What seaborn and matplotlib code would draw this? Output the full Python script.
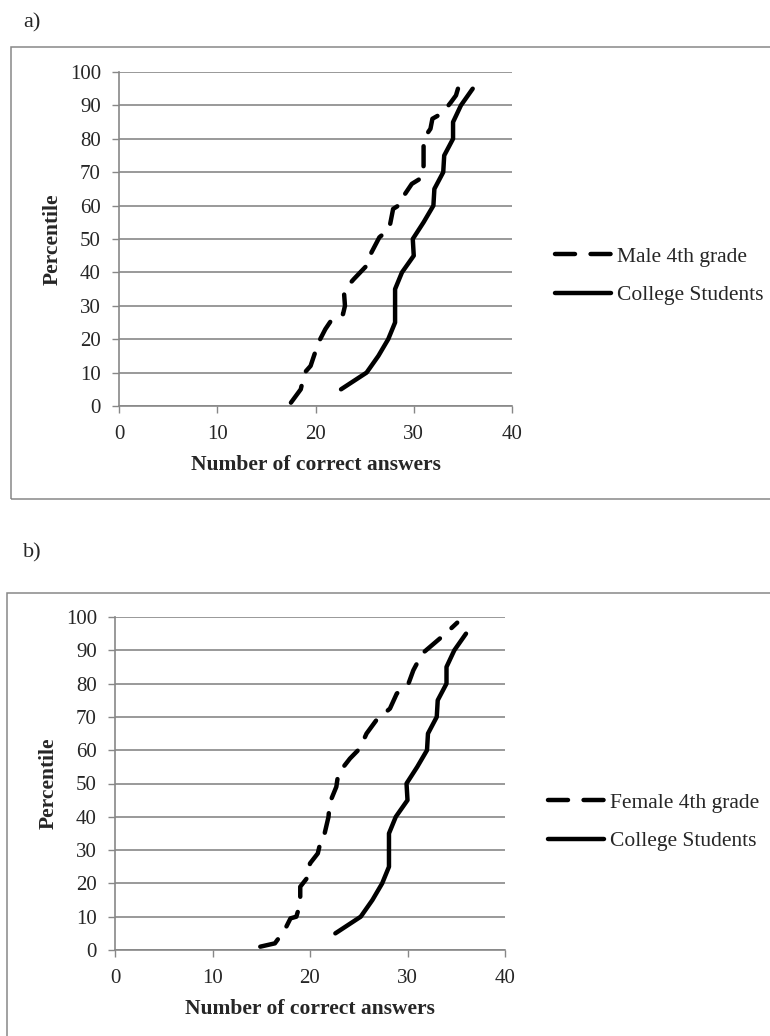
import matplotlib
matplotlib.use('Agg')
import matplotlib.pyplot as plt
from matplotlib.patches import Rectangle
import pandas as pd
import seaborn as sns

# percentile curves
college_pct = [5, 10, 15, 20, 25, 30, 35, 40, 45, 50, 55, 60, 65, 70, 75, 80, 85, 90, 95]
college_score = [22.6, 25.2, 26.4, 27.4, 28.1, 28.1, 28.1, 28.8, 30.0, 29.9, 31.0,
                 32.0, 32.1, 33.0, 33.1, 34.0, 34.0, 34.8, 36.0]

male_score = [17.5, 18.5, 18.9, 19.5, 20.3, 21.0, 21.8, 22.8, 23.0, 22.9, 23.3, 23.9,
              25.2, 25.7, 26.5, 27.5, 27.9, 28.7, 29.0, 29.8, 30.9, 31.0, 31.0, 31.7,
              31.9, 32.5, 33.4, 33.8, 34.3, 34.5]
male_pct = [1, 5, 10, 12, 19, 23, 26.5, 27.5, 30, 34, 36, 38,
            42, 46, 50.5, 53, 59, 60.5, 63, 66.5, 68.5, 72, 80, 83,
            86, 87, 89.5, 91, 93, 95]

female_score = [14.9, 16.4, 17.4, 18.0, 18.6, 19.0, 19.0, 19.8, 20.0, 20.8, 21.2, 21.5,
                21.9, 22.0, 22.7, 22.9, 24.1, 25.1, 25.8, 26.8, 28.2, 28.9, 30.1, 30.6,
                31.5, 32.5, 33.9, 35.1]
female_pct = [1, 2, 6, 9.5, 10, 14, 19, 22, 26, 29, 34, 35,
              40, 44, 49, 53, 57.5, 60.5, 65, 69, 72.5, 77, 80, 84,
              89, 91.5, 95, 98.3]

x_ticks = [0, 10, 20, 30, 40]
y_ticks = list(range(0, 101, 10))

sns.set_style('white')
plt.rcParams['font.family'] = ['Liberation Serif', 'DejaVu Serif']

GRID = '#878787'
FS = 15
fig = plt.figure(figsize=(7.7, 10.36), dpi=100)

# outer frames (Excel chart area borders)
fig.add_artist(Rectangle((11 / 770, 1 - 499 / 1036), 1.0, (499 - 47) / 1036,
                         transform=fig.transFigure, fill=False, edgecolor=GRID, lw=1.1))
fig.add_artist(Rectangle((7 / 770, -0.05), 1.0, 0.05 + 1 - 593 / 1036,
                         transform=fig.transFigure, fill=False, edgecolor=GRID, lw=1.1))

fig.text(23 / 770, 1 - 23 / 1036, 'a)', fontsize=16, va='center')
fig.text(23 / 770, 1 - 553 / 1036, 'b)', fontsize=16, va='center')


def draw_panel(ax, g_score, g_pct, g_label, leg_anchor):
    grade = pd.DataFrame({'score': g_score, 'pct': g_pct})
    college = pd.DataFrame({'score': college_score, 'pct': college_pct})
    sns.lineplot(data=grade, x='score', y='pct', sort=False, estimator=None, ax=ax,
                 color='black', lw=3.2, linestyle=(0, (4.5, 3.5)),
                 solid_capstyle='round', dash_capstyle='round', label=g_label)
    sns.lineplot(data=college, x='score', y='pct', sort=False, estimator=None, ax=ax,
                 color='black', lw=3.2, solid_capstyle='round',
                 label='College Students')
    ax.set_xlim(0, 40)
    ax.set_ylim(0, 100)
    ax.set_xticks(x_ticks)
    ax.set_yticks(y_ticks)
    ax.tick_params(axis='both', labelsize=FS, length=5, width=1, color=GRID,
                   direction='out')
    ax.tick_params(axis='x', pad=8.5, bottom=True)
    ax.tick_params(axis='y', pad=8, left=True)
    ax.yaxis.grid(True, color=GRID, lw=1.2)
    ax.xaxis.grid(False)
    for s in ['top', 'right']:
        ax.spines[s].set_visible(False)
    for s in ['left', 'bottom']:
        ax.spines[s].set_color(GRID)
        ax.spines[s].set_linewidth(1.2)
    ax.set_xlabel('Number of correct answers', fontsize=FS + 0.5, fontweight='bold', labelpad=8)
    ax.set_ylabel('Percentile', fontsize=FS + 0.5, fontweight='bold', labelpad=5)
    leg = ax.legend(loc='center left', bbox_to_anchor=leg_anchor,
                    bbox_transform=fig.transFigure, frameon=False, fontsize=FS + 0.5,
                    handlelength=2.6, handletextpad=0.3, labelspacing=0.85,
                    borderaxespad=0, borderpad=0)
    for h in leg.get_lines():
        h.set_linewidth(3.2)


ax1 = fig.add_axes([119 / 770, 1 - 406 / 1036, (512 - 119) / 770, (406 - 72) / 1036])
draw_panel(ax1, male_score, male_pct, 'Male 4th grade', (555 / 770, 1 - 276 / 1036))

ax2 = fig.add_axes([115 / 770, 1 - 950 / 1036, (505 - 115) / 770, (950 - 617) / 1036])
draw_panel(ax2, female_score, female_pct, 'Female 4th grade', (548 / 770, 1 - 822 / 1036))

fig.savefig('out.png', dpi=100)
